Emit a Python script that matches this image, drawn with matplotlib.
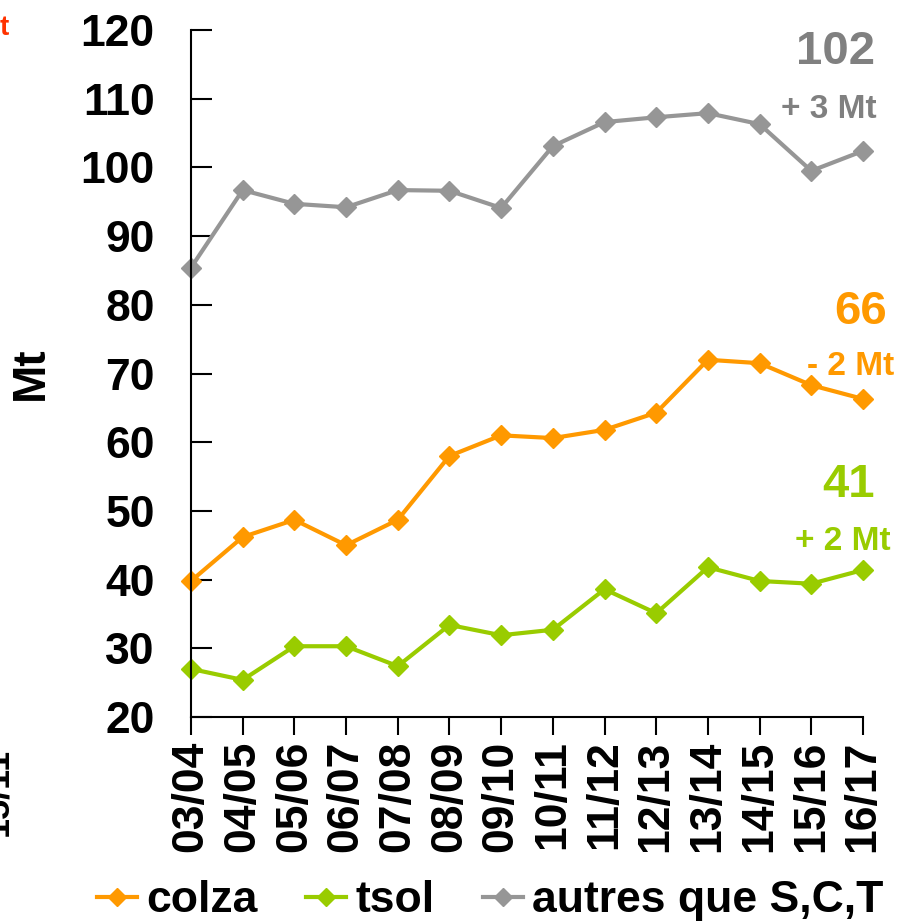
import matplotlib.pyplot as plt
from matplotlib.lines import Line2D

# campaigns (x axis)
campagnes = ['03/04', '04/05', '05/06', '06/07', '07/08', '08/09', '09/10',
             '10/11', '11/12', '12/13', '13/14', '14/15', '15/16', '16/17']

# production in Mt
colza = [39.8, 46.2, 48.7, 45.0, 48.7, 58.0, 61.0, 60.6, 61.8, 64.3, 72.0, 71.5, 68.3, 66.3]
tsol = [27.0, 25.4, 30.3, 30.3, 27.4, 33.4, 31.9, 32.7, 38.6, 35.1, 41.8, 39.8, 39.4, 41.4]
autres = [85.4, 96.7, 94.7, 94.2, 96.7, 96.6, 94.1, 103.1, 106.6, 107.3, 107.9, 106.3, 99.5, 102.4]

names = ['colza', 'tsol', 'autres que S,C,T']
colors = ['#FF9900', '#99CC00', '#969696']
text_colors = ['#FF9900', '#99CC00', '#808080']

# end labels: big number, change
end_labels = [('66', '- 2 Mt'), ('41', '+ 2 Mt'), ('102', '+ 3 Mt')]

plt.rcParams['font.family'] = ['Liberation Sans', 'DejaVu Sans']
plt.rcParams['font.weight'] = 'bold'

fig = plt.figure(figsize=(9, 9.21), dpi=100)
ax = fig.add_axes([0.2122, 0.2215, 0.7467, 0.7459])

x = list(range(len(campagnes)))
for ys, c in zip([colza, tsol, autres], colors):
    ax.plot(x, ys, color=c, lw=3, marker='D', ms=10, mec=c, mfc=c, clip_on=False)

ax.set_xlim(0, 13)
ax.set_ylim(20, 120)
ax.set_yticks(range(20, 121, 10))
ax.set_xticks(x)
ax.set_xticklabels(campagnes, rotation=90, fontsize=32, fontweight='bold')
ax.tick_params(axis='y', direction='in', length=15, width=1.5, labelsize=32, pad=26)
ax.tick_params(axis='x', direction='out', length=13, width=1.5, pad=4)
for lab in ax.get_yticklabels():
    lab.set_fontweight('bold')

ax.spines['top'].set_visible(False)
ax.spines['right'].set_visible(False)
ax.spines['left'].set_linewidth(1.5)
ax.spines['bottom'].set_linewidth(1.5)

ax.set_ylabel('Mt', fontsize=33, fontweight='bold')
ax.yaxis.set_label_coords(-0.205, 0.5)

# end annotations
ann_pos = [(12.96, 79.0, 12.77, 71.0), (12.73, 53.8, 12.61, 45.6), (12.46, 116.8, 12.34, 108.4)]
for (big, small), tc, (bx, by, sx, sy) in zip(end_labels, text_colors, ann_pos):
    ax.text(bx, by, big, color=tc, fontsize=34, fontweight='bold', ha='center', va='center')
    ax.text(sx, sy, small, color=tc, fontsize=24, fontweight='bold', ha='center', va='center')

# legend
handles = [Line2D([0], [0], color=c, lw=3, marker='D', ms=9) for c in colors]
fig.legend(handles, names, loc='center', bbox_to_anchor=(0.545, 0.022), ncol=3,
           frameon=False, prop={'size': 32, 'weight': 'bold'}, handlelength=0.9,
           handletextpad=0.2, columnspacing=1.1)

# fragments at the left edge of the original picture
fig.text(0.0, 0.97, 't', color='#FF3300', fontsize=20, fontweight='bold', va='center')
fig.text(-0.022, 0.14, '15/11', color='black', fontsize=26, fontweight='bold',
         rotation=90, va='center', ha='left')

fig.savefig('out.png', dpi=100)
